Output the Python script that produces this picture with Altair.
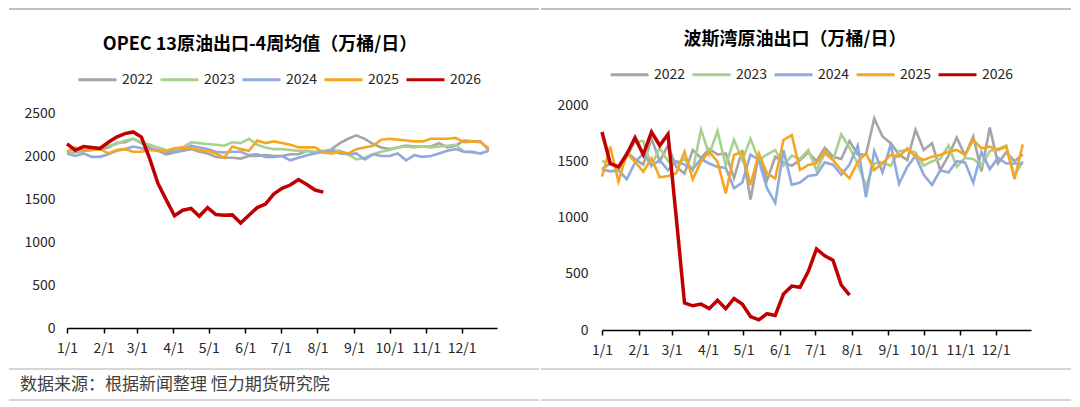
import altair as alt
import pandas as pd

FONT = "Noto Sans CJK SC"
years = ["2022", "2023", "2024", "2025", "2026"]
colors = ["#A5A5A5", "#A9D18E", "#8FAADC", "#F5A623", "#C00000"]
months = list(range(1, 13))

# OPEC 13 crude exports, 4-week average (10k bbl/day), weekly
opec_2022 = [2050, 2040, 2060, 2070, 2080, 2100, 2150, 2160, 2200, 2150, 2100, 2060, 2020,
             2040, 2060, 2080, 2050, 2030, 1990, 1980, 1980, 1970, 2000, 2000, 2010, 2000,
             2000, 2020, 2020, 2060, 2040, 2050, 2080, 2150, 2200, 2240, 2200, 2140, 2100,
             2080, 2100, 2120, 2110, 2110, 2110, 2150, 2100, 2120, 2180, 2170, 2170, 2070]
opec_2023 = [2050, 2060, 2060, 2080, 2100, 2120, 2140, 2180, 2200, 2160, 2130, 2100, 2070,
             2060, 2100, 2160, 2150, 2140, 2130, 2120, 2160, 2150, 2200, 2130, 2100, 2080,
             2080, 2070, 2060, 2060, 2050, 2060, 2070, 2060, 2020, 1960, 1980, 2020, 2050,
             2070, 2100, 2110, 2100, 2110, 2100, 2110, 2120, 2130, 2050, 2040, 2030, 2060]
opec_2024 = [2030, 2000, 2030, 1990, 1990, 2020, 2060, 2080, 2110, 2090, 2080, 2070, 2050,
             2050, 2070, 2120, 2100, 2080, 2050, 2040, 2050, 2050, 2010, 2020, 1990, 1990,
             2000, 1950, 1980, 2010, 2030, 2050, 2060, 2030, 2020, 2030, 1960, 2020, 2000,
             2000, 2030, 1950, 2010, 1990, 2000, 2030, 2060, 2080, 2050, 2050, 2030, 2060]
opec_2025 = [2050, 2100, 2060, 2070, 2080, 2030, 2070, 2080, 2050, 2050, 2070, 2060, 2060,
             2090, 2100, 2090, 2070, 2060, 2030, 1980, 2110, 2080, 2060, 2180, 2150, 2170,
             2150, 2130, 2100, 2100, 2100, 2040, 2030, 2050, 2030, 2080, 2100, 2120, 2190,
             2200, 2190, 2180, 2170, 2170, 2200, 2200, 2200, 2210, 2160, 2170, 2160, 2090]
opec_2026 = [2140, 2067, 2110, 2100, 2087, 2160, 2220, 2260, 2280, 2220, 1970, 1681, 1490,
             1305, 1370, 1390, 1300, 1400, 1320, 1310, 1315, 1220, 1310, 1400, 1441, 1557,
             1623, 1662, 1727, 1669, 1604, 1580]

# Persian Gulf crude exports (10k bbl/day), weekly
gulf_2022 = [1430, 1480, 1450, 1580, 1520, 1470, 1700, 1500, 1640, 1450, 1390, 1600, 1530,
             1610, 1560, 1570, 1350, 1600, 1160, 1560, 1330, 1540, 1490, 1460, 1510, 1580,
             1500, 1620, 1540, 1520, 1680, 1560, 1560, 1880, 1720, 1660, 1560, 1510, 1780,
             1600, 1660, 1420, 1550, 1710, 1550, 1720, 1410, 1800, 1480, 1580, 1500, 1560]
gulf_2023 = [1500, 1490, 1420, 1540, 1670, 1680, 1460, 1620, 1500, 1480, 1520, 1420, 1780,
             1560, 1770, 1460, 1690, 1510, 1700, 1510, 1560, 1600, 1460, 1550, 1520, 1600,
             1420, 1570, 1510, 1740, 1620, 1480, 1280, 1480, 1490, 1460, 1590, 1600, 1580,
             1460, 1500, 1520, 1640, 1450, 1530, 1520, 1460, 1590, 1610, 1640, 1370, 1500]
gulf_2024 = [1430, 1410, 1420, 1340, 1490, 1570, 1460, 1510, 1420, 1500, 1470, 1430, 1520,
             1480, 1450, 1440, 1260, 1310, 1560, 1510, 1260, 1130, 1600, 1290, 1310, 1370,
             1380, 1490, 1470, 1380, 1470, 1640, 1180, 1590, 1400, 1650, 1300, 1450, 1550,
             1380, 1290, 1420, 1400, 1500, 1490, 1310, 1580, 1430, 1530, 1480, 1480, 1480]
gulf_2025 = [1363, 1630, 1318, 1570, 1496, 1407, 1526, 1357, 1369, 1393, 1585, 1340, 1496,
             1585, 1496, 1215, 1556, 1585, 1289, 1570, 1393, 1348, 1689, 1733, 1422, 1467,
             1481, 1585, 1511, 1422, 1348, 1496, 1570, 1422, 1481, 1556, 1541, 1615, 1541,
             1511, 1541, 1556, 1585, 1600, 1556, 1689, 1615, 1630, 1600, 1630, 1340, 1650]
gulf_2026 = [1760, 1480, 1450, 1560, 1710, 1560, 1760, 1640, 1740, 1000, 240, 215, 230,
             190, 265, 190, 280, 230, 120, 90, 145, 130, 320, 390, 380, 520, 720, 660,
             620, 400, 310]

for s in [opec_2022, opec_2023, opec_2024, opec_2025, gulf_2022, gulf_2023, gulf_2024, gulf_2025]:
    assert len(s) == 52, len(s)

title_left = "OPEC 13原油出口-4周均值（万桶/日）"
title_right = "波斯湾原油出口（万桶/日）"
source_text = "数据来源：根据新闻整理 恒力期货研究院"


def build_df(series):
    rows = []
    for yr, vals in zip(years, series):
        for i, v in enumerate(vals):
            d = (pd.Timestamp("2021-01-01") + pd.Timedelta(days=7 * i)).strftime("%Y-%m-%d")
            rows.append({"date": d, "year": yr, "value": v})
    return pd.DataFrame(rows)


one = pd.DataFrame({"k": [0]})
PY = 105  # shared plot-area top (page px)
SYM = 38


def panel(df, title, ymax, ytop, w, h, px, title_cx, title_cy, leg_x, leg_cy,
          ext_l, ext_r, ylabpad, footer_y, source=None):
    py = PY
    color = alt.Color(
        "year:N",
        scale=alt.Scale(domain=years, range=colors),
        legend=alt.Legend(orient="none", legendX=leg_x - px, legendY=leg_cy - py - SYM / 2,
                          direction="horizontal", title=None, symbolType="stroke",
                          symbolSize=SYM * SYM, symbolStrokeWidth=3, labelFontSize=14,
                          labelFont=FONT, labelColor="#262626", columnPadding=0,
                          labelOffset=4, padding=0),
    )
    x = alt.X(
        "date:T",
        scale=alt.Scale(type="utc", domain=[alt.DateTime(year=2021, month=1, date=1, utc=True),
                                            alt.DateTime(year=2021, month=12, date=31, utc=True)]),
        axis=alt.Axis(values=[alt.DateTime(year=2021, month=m, date=1, utc=True) for m in months],
                      format="%-m/%-d", title=None, grid=False, domainColor="#000000",
                      domainWidth=1.5, tickColor="#000000", tickWidth=1.5, tickSize=5,
                      labelPadding=8, labelFontSize=14, labelFont=FONT, labelColor="#262626",
                      labelFlush=False, labelOverlap=False),
    )
    y = alt.Y(
        "value:Q",
        scale=alt.Scale(domain=[0, ytop], nice=False),
        axis=alt.Axis(values=list(range(0, ymax + 1, 500)), format="d", title=None, grid=False,
                      domain=False, ticks=False, labelPadding=ylabpad, labelFontSize=14,
                      labelFont=FONT, labelColor="#262626"),
    )
    base = alt.Chart(df).encode(x=x, y=y, color=color)
    others = base.transform_filter(alt.datum.year != "2026").mark_line(strokeWidth=2.6)
    cur = base.transform_filter(alt.datum.year == "2026").mark_line(strokeWidth=3.5)

    ttl = alt.Chart(one).mark_text(font=FONT, fontSize=18, fontWeight="bold", color="#000000",
                                    align="center", baseline="middle").encode(
        x=alt.value(title_cx - px), y=alt.value(title_cy - py), text=alt.value(title))
    top_rule = alt.Chart(one).mark_rule(color="#C0C0C0", strokeWidth=2).encode(
        x=alt.value(ext_l - px), x2=alt.value(ext_r - px), y=alt.value(9 - py))
    layers = [top_rule, ttl, others, cur]
    for fy in footer_y:
        layers.append(alt.Chart(one).mark_rule(color="#C8C8C8", strokeWidth=1.5).encode(
            x=alt.value(ext_l - px), x2=alt.value(ext_r - px), y=alt.value(fy - py)))
    if source:
        layers.append(alt.Chart(one).mark_text(font=FONT, fontSize=17, color="#404040",
                                               align="left", baseline="middle").encode(
            x=alt.value(20 - px), y=alt.value(source[1] - py), text=alt.value(source[0])))
    return alt.layer(*layers).properties(width=w, height=h)


# left plot: bottom at 328, value 2500 at page y 113 -> extend domain to the shared top 105
left_h = 223
left = panel(build_df([opec_2022, opec_2023, opec_2024, opec_2025, opec_2026]), title_left,
             2500, 2500 * left_h / 215, 430, left_h, 67, 260, 45, 77, 78, 9, 539, 12,
             [369, 400], source=(source_text, 385))
right = panel(build_df([gulf_2022, gulf_2023, gulf_2024, gulf_2025, gulf_2026]), title_right,
              2000, 2000, 429, 225, 602, 795, 40, 609, 73, 541, 1071, 14, [369, 400])

chart = alt.hconcat(left, right, spacing=0).resolve_scale(
    x="independent", y="independent", color="independent"
).resolve_legend(color="independent").properties(padding=0).configure_view(stroke=None)

chart.save("out.html", embed_options={"renderer": "svg", "actions": False})
